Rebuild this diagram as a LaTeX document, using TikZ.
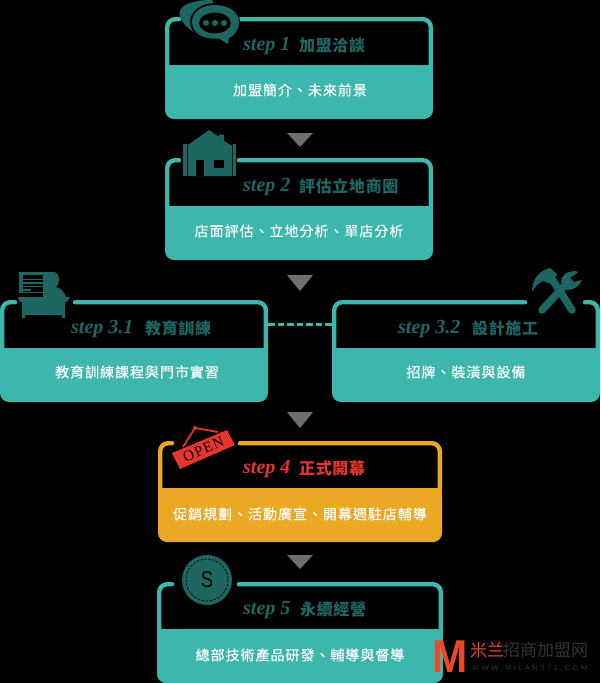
\documentclass[tikz,border=0pt]{standalone}
\usepackage{fontspec}
\setmainfont{Liberation Sans}
\newfontfamily\cjk[LetterSpace=7,FakeBold=0.25]{Noto Sans CJK TC}
\newfontfamily\cjkh[LetterSpace=4]{Noto Sans CJK TC}
\newfontfamily\cjkw{Noto Sans CJK TC}
\newfontfamily\lib{Liberation Sans}
\newfontfamily\libs[LetterSpace=8]{Liberation Serif}
\newfontfamily\stepf{Liberation Serif}
\definecolor{tealA}{HTML}{3DB7AC}
\definecolor{tealD}{HTML}{1E6662}
\definecolor{orangeA}{HTML}{EAA824}
\definecolor{redA}{HTML}{E5352D}
\definecolor{grayA}{HTML}{6E6E6E}
\definecolor{wmR}{HTML}{E8482B}
\definecolor{wmG}{HTML}{333333}
\tikzset{
  body/.style={font=\fontsize{14}{16}\selectfont\cjk,text=white,inner sep=0pt},
  titletxt/.style={font=\fontsize{16}{18}\selectfont\cjkh\bfseries,inner sep=0pt,anchor=west},
  steptxt/.style={font=\fontsize{20}{21}\selectfont\stepf\bfseries\itshape,inner sep=0pt,anchor=west},
  arrowtri/.style={fill=grayA},
  headbox/.style={inner sep=0pt,minimum width=#1,minimum height=48pt}
}
% x1,x2,top,fillstart,bottom,gapL,gapR,colour,name
\newcommand{\stepbox}[9]{%
  \fill[#8,rounded corners=9pt] (#1,#4) -- (#1,#5) -- (#2,#5) -- (#2,#4) -- cycle;
  \fill[#8] (#1,#4) rectangle (#2,#4+10);
  \draw[#8,line width=4.4pt,line cap=round,rounded corners=8pt]
     (#6,#3+2.2) -- (#1+2.2,#3+2.2) -- (#1+2.2,#4+1);
  \draw[#8,line width=4.4pt,line cap=round,rounded corners=8pt]
     (#7,#3+2.2) -- (#2-2.2,#3+2.2) -- (#2-2.2,#4+1);
  \path (#1/2+#2/2,#3/2+#4/2) node[headbox=#2pt-#1pt] (#9) {};
}
\begin{document}
\begin{tikzpicture}[x=1pt,y=-1pt]
\useasboundingbox (0,0) rectangle (600,683);
\fill[black] (0,0) rectangle (600,683);
% boxes
\stepbox{165}{433}{17}{65}{119}{179}{239}{tealA}{h1}
\stepbox{165}{433}{158}{206}{260}{179}{239}{tealA}{h2}
\stepbox{0}{268}{300}{348}{402}{15}{75}{tealA}{h31}
\stepbox{332}{600}{300}{348}{402}{525}{585}{tealA}{h32}
\stepbox{158}{442}{441}{488}{542}{172}{240}{orangeA}{h4}
\stepbox{157}{443}{582}{629}{683}{172}{239}{tealA}{h5}
% connector
\draw[tealA,line width=3pt,dash pattern=on 6.5pt off 3pt] (h31.east) -- (h32.west);
% triangles
\fill[arrowtri] (287,133) -- (313,133) -- (300,147) -- cycle;
\fill[arrowtri] (287,275) -- (313,275) -- (300,291) -- cycle;
\fill[arrowtri] (287,412) -- (313,412) -- (300,428) -- cycle;
\fill[arrowtri] (287,555) -- (313,555) -- (300,569) -- cycle;
% body text
\node[body] (t1) at (300,90) {加盟簡介、未來前景};
\node[body] (t2) at (299,231) {店面評估、立地分析、單店分析};
\node[body] (t31) at (137,372) {教育訓練課程與門市實習};
\node[body] (t32) at (466,372) {招牌、裝潢與設備};
\node[body] (t4) at (300,514) {促銷規劃、活動廣宣、開幕週駐店輔導};
\node[body] (t5) at (300,655) {總部技術產品研發、輔導與督導};
% step labels
\node[steptxt,text=tealD] (s1) at (243,46) {step 1};
\node[titletxt,text=tealD] (n1) at (299,45) {加盟洽談};
\node[steptxt,text=tealD] (s2) at (243,187) {step 2};
\node[titletxt,text=tealD] (n2) at (299,186) {評估立地商圈};
\node[steptxt,text=tealD] (s31) at (71,329) {step 3.1};
\node[titletxt,text=tealD] (n31) at (145,328) {教育訓練};
\node[steptxt,text=tealD] (s32) at (398,329) {step 3.2};
\node[titletxt,text=tealD] (n32) at (472,328) {設計施工};
\node[steptxt,text=redA] (s4) at (243,469) {step 4};
\node[titletxt,text=redA] (n4) at (299,468) {正式開幕};
\node[steptxt,text=tealD] (s5) at (243,610) {step 5};
\node[titletxt,text=tealD] (n5) at (300,609) {永續經營};
% chat icon
\fill[tealD] (195,33) .. controls (184,26) and (178,18) .. (180,10)
   .. controls (184,3) and (197,0) .. (212,0) -- (214,4)
   .. controls (200,5) and (190,16) .. (195,33) -- cycle;
\fill[black] (215,22) ellipse (25 and 19);
\fill[tealD,even odd rule] (192,22) .. controls (192,11) and (203,5) .. (215,5)
   .. controls (228,5) and (239,12) .. (239,22)
   .. controls (239,30) and (234,36) .. (229,38) -- (228,44) -- (219,38.5)
   .. controls (203,40) and (192,33) .. (192,22) -- cycle
   (215,23) ellipse (16 and 10.5);
\foreach \dx in {206,215,224} \fill[tealD] (\dx,23) circle (3);
% house icon
\fill[tealD] (183,144) rectangle (187,176);
\fill[tealD] (233,144) rectangle (236,176);
\fill[tealD] (188,176) -- (188,145) -- (209,130) -- (219,137) -- (219,134.5) -- (224,134.5) -- (224,141) -- (232,146) -- (232,176) -- cycle;
\fill[black] (196,160) rectangle (204,176);
\fill[black] (214,160) rectangle (224,168);
% desk icon
\fill[tealD] (19,272) rectangle (45,293);
\fill[black] (23,275) rectangle (43,292);
\foreach \ly in {278.5,282,285.5} \fill[tealD] (23,\ly) rectangle (43,\ly+1.6);
\fill[tealD] (23,289) rectangle (31,290.5);
\fill[tealD] (43,272) -- (53,272) .. controls (60,272) and (61,282) .. (56,287)
   .. controls (63,289) and (65,293) .. (66,298) -- (43,298) -- cycle;
\fill[tealD] (18,297) -- (70,297) -- (67,302) -- (65,302) -- (65,318) -- (62,318) -- (62,315) -- (25,315) -- (25,318) -- (22,318) -- (22,302) -- (20,302) -- cycle;
% tools icon
\draw[tealD,line width=7.5pt,line cap=round] (572,310) -- (552,279);
\fill[tealD] (532,292) .. controls (532,279) and (540,270) .. (550,268) -- (557,274) -- (552,284) -- (543,281) .. controls (538,283) and (535,287) .. (532,292) -- cycle;
\draw[tealD,line width=7.5pt,line cap=round] (542,310) -- (568,282);
\fill[tealD] (574,271) .. controls (567,271) and (561,276) .. (561,282) -- (567,290) .. controls (574,290) and (580,286) .. (582,280) -- (574,282) -- (570,278) -- (578,272) .. controls (577,271) and (575,271) .. (574,271) -- cycle;
% open sign
\draw[redA,line width=1.8pt] (183,447) -- (195,428) -- (218,432);
\fill[redA] (195,428) circle (2);
\fill[redA] (172,453) -- (227,430) -- (235,445) -- (180,469) -- cycle;
\node[rotate=23,font=\fontsize{15}{16}\libs,text=black,inner sep=0pt] (open) at (203.5,449.5) {OPEN};
% coin
\node[circle,fill=tealD,minimum size=50pt,inner sep=0pt] (coin) at (207,580) {};
\draw[black,line width=.7pt,dash pattern=on 2.5pt off 1.5pt] (coin.center) circle (21);
\node[font=\fontsize{23}{24}\lib,text=black,inner sep=0pt] (dollar) at (coin.center) {\scalebox{.8}[1]{S}};
% watermark
\node[font=\fontsize{46}{46}\lib\bfseries,text=wmR,inner sep=0pt] (wm) at (450.5,656.5) {\scalebox{.92}[1]{M}};
\node[font=\fontsize{17}{18}\cjkw,text=wmR,inner sep=0pt,anchor=west] (wm1) at (470,650) {米兰};
\node[font=\fontsize{17}{18}\cjkw,text=wmG,inner sep=0pt,anchor=west] (wm2) at (503,650) {招商加盟网};
\node[font=\fontsize{7.5}{8}\lib,text=wmG,inner sep=0pt,anchor=west] (wm3) at (472,668) {\addfontfeature{LetterSpace=33}WWW.MILAN571.COM};
\end{tikzpicture}
\end{document}
